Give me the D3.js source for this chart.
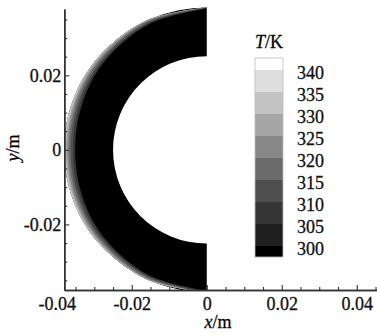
<!DOCTYPE html>
<html>
<head>
<meta charset="utf-8">
<script src="https://cdn.jsdelivr.net/npm/d3@7"></script>
<style>
  body { margin: 0; background: #fff; }
  text.lbl { stroke: #111; stroke-width: 0.3px; }
</style>
</head>
<body>
<svg id="chart" width="377" height="335"></svg>
<script>
// Temperature field in the half ring, Tecplot-like flood contour

// Axis ticks
const xMajor = [-0.04, -0.02, 0, 0.02, 0.04];
const yMajor = [-0.02, 0, 0.02];
const xMinor = [-0.035, -0.03, -0.025, -0.015, -0.01, -0.005, 0.005, 0.01, 0.015, 0.025, 0.03, 0.035, 0.045];
const yMinor = [-0.035, -0.03, -0.025, -0.015, -0.01, -0.005, 0.005, 0.01, 0.015, 0.025, 0.03, 0.035];

// Contour levels (K) and band colours: below 300, 300-305, ..., above 340
const levels = [300, 305, 310, 315, 320, 325, 330, 335, 340];
const bandColors = ["#000000", "#1f1f1f", "#363636", "#4f4f4f", "#6b6b6b", "#888888", "#a6a6a6", "#c3c3c3", "#dedede", "#ffffff"];

// Ring geometry (m)
const ringInner = 0.025;
const ringOuter = 0.038;

// Isotherm depth below the outer surface (mm), read at these angles
// (degrees clockwise from +y, 270 = facing -x)
const isoAngles = [180, 205, 230, 250, 270, 290, 310, 335, 360];
const isoLevels = [305, 310, 315, 320, 325, 330];
const isoDepthMM = [
  [0.4, 1.2, 2.0, 2.6, 2.9, 2.6, 2.0, 1.1, 0.3],
  [0.2, 0.9, 1.5, 2.0, 2.3, 2.0, 1.5, 0.8, 0.1],
  [0.0, 0.6, 1.1, 1.5, 1.7, 1.5, 1.1, 0.5, 0.0],
  [0.0, 0.3, 0.7, 1.0, 1.2, 1.0, 0.7, 0.2, 0.0],
  [0.0, 0.1, 0.4, 0.6, 0.8, 0.6, 0.4, 0.0, 0.0],
  [0.0, 0.0, 0.1, 0.3, 0.4, 0.3, 0.1, 0.0, 0.0]
];

const svg = d3.select("#chart");
const FONT = "'Liberation Serif'";

// Scales (plot frame starts at -0.038 on both axes)
const x = d3.scaleLinear().domain([-0.038, 0.0454]).range([64.3, 377]);
const y = d3.scaleLinear().domain([-0.0376, 0.0378]).range([290, 9]);
const pxPerM = (x(0.01) - x(0)) / 0.01;

svg.append("clipPath").attr("id", "plotclip")
  .append("rect")
  .attr("x", x(-0.038)).attr("y", 0)
  .attr("width", 377 - x(-0.038)).attr("height", y(-0.0376));

let field = svg.append("g")
  .attr("clip-path", "url(#plotclip)")
  .append("g")
  .attr("transform", "translate(" + x(0) + "," + y(0) + ")");

// Base half ring (cold core)
field.append("path")
  .attr("d", d3.arc()({
    innerRadius: ringInner * pxPerM,
    outerRadius: ringOuter * pxPerM,
    startAngle: Math.PI,
    endAngle: 2 * Math.PI
  }))
  .attr("fill", bandColors[0]);

// Warmer bands near the outer surface
const band = d3.areaRadial()
  .angle(d => d.a * Math.PI / 180)
  .innerRadius(d => (ringOuter - d.depth / 1000) * pxPerM)
  .outerRadius(ringOuter * pxPerM + 0.2)
  .curve(d3.curveCatmullRom);

isoLevels.forEach(function(lev, i) {
  let pts = isoAngles.map((a, j) => ({a: a, depth: isoDepthMM[i][j]}));
  field.append("path")
    .attr("d", band(pts))
    .attr("fill", bandColors[levels.indexOf(lev) + 1]);
});

// Axes
const axisColor = "#333";

let xAxis = svg.append("g")
  .attr("transform", "translate(0," + y(-0.0376) + ")")
  .call(d3.axisBottom(x).tickValues(xMajor).tickSizeInner(-5).tickSizeOuter(0)
    .tickPadding(7).tickFormat(d => d === 0 ? "0" : d.toFixed(2)));
xAxis.selectAll(".tick line").filter(d => d < -0.038).remove();

let xMinorAxis = svg.append("g")
  .attr("transform", "translate(0," + y(-0.0376) + ")")
  .call(d3.axisBottom(x).tickValues(xMinor).tickSizeInner(-3).tickSizeOuter(0).tickFormat(""));

let yAxis = svg.append("g")
  .attr("transform", "translate(" + x(-0.038) + ",0)")
  .call(d3.axisLeft(y).tickValues(yMajor).tickSizeInner(-5).tickSizeOuter(0)
    .tickPadding(3).tickFormat(d => d === 0 ? "0" : d.toFixed(2)));

let yMinorAxis = svg.append("g")
  .attr("transform", "translate(" + x(-0.038) + ",0)")
  .call(d3.axisLeft(y).tickValues(yMinor).tickSizeInner(-3).tickSizeOuter(0).tickFormat(""));

[xAxis, xMinorAxis, yAxis, yMinorAxis].forEach(function(ax) {
  ax.select(".domain").attr("stroke", axisColor).attr("stroke-width", 1.5);
  ax.selectAll(".tick line").attr("stroke", axisColor).attr("stroke-width", 1.1);
  ax.selectAll(".tick text").attr("fill", "#111").attr("class", "lbl")
    .style("font-family", FONT).style("font-size", "18px");
});

// Axis titles
let xt = svg.append("text")
  .attr("class", "lbl")
  .attr("x", 218).attr("y", 328)
  .attr("text-anchor", "middle")
  .style("font-family", FONT).style("font-size", "18px");
xt.append("tspan").attr("font-style", "italic").text("x");
xt.append("tspan").text("/m");

let yt = svg.append("text")
  .attr("class", "lbl")
  .attr("transform", "translate(19,148) rotate(-90)")
  .attr("text-anchor", "middle")
  .style("font-family", FONT).style("font-size", "18px");
yt.append("tspan").attr("font-style", "italic").text("y");
yt.append("tspan").text("/m");

// Legend
const legX = 255, legW = 28;
const ly = d3.scaleLinear().domain([340, 300]).range([70, 246]);
const legTop = ly(340) - 12, legBottom = ly(300) + 11;

let leg = svg.append("g");

let legTitle = leg.append("text")
  .attr("class", "lbl")
  .attr("x", legX).attr("y", 48)
  .style("font-family", FONT).style("font-size", "18px");
legTitle.append("tspan").attr("font-style", "italic").text("T");
legTitle.append("tspan").text("/K");

const bandEdges = [legBottom].concat(levels.map(l => ly(l))).concat([legTop]);
bandColors.forEach(function(c, i) {
  leg.append("rect")
    .attr("x", legX)
    .attr("y", bandEdges[i + 1])
    .attr("width", legW)
    .attr("height", bandEdges[i] - bandEdges[i + 1])
    .attr("fill", c);
});
leg.append("rect")
  .attr("x", legX).attr("y", legTop)
  .attr("width", legW).attr("height", legBottom - legTop)
  .attr("fill", "none").attr("stroke", "#bbb").attr("stroke-width", 0.8);

leg.selectAll("text.lev")
  .data(levels)
  .enter().append("text")
  .attr("class", "lev lbl")
  .attr("x", 297)
  .attr("y", d => ly(d) + 9)
  .style("font-family", FONT).style("font-size", "18px")
  .attr("fill", "#111")
  .text(d => d);
</script>
</body>
</html>
